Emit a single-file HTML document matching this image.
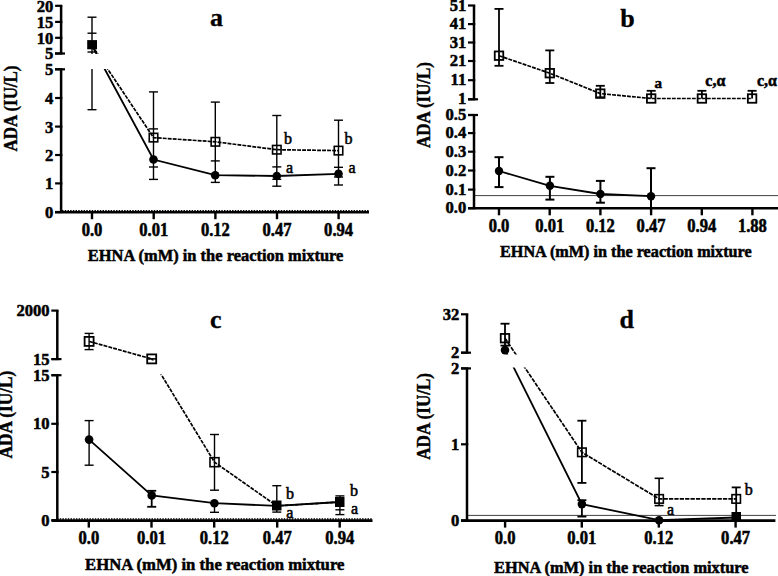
<!DOCTYPE html>
<html><head><meta charset="utf-8"><style>
html,body{margin:0;padding:0;background:#fff;width:778px;height:576px;overflow:hidden}
svg{display:block}
text{font-family:"Liberation Serif",serif;fill:#000}
</style></head><body>
<svg width="778" height="576" viewBox="0 0 778 576" font-family="Liberation Serif, serif">
<rect width="778" height="576" fill="#fff"/>
<polyline points="92,45.5 153.5,159.5 215.2,175.2 276.8,176 338.5,173.8" fill="none" stroke="#000" stroke-width="1.8" />
<polyline points="92,45.5 153.5,137.6 215.4,141.8 276.8,149.7 338.5,150.6" fill="none" stroke="#000" stroke-width="1.7" stroke-dasharray="3.9,1.1" />
<line x1="92" y1="17.2" x2="92" y2="109.7" stroke="#000" stroke-width="1.4" />
<line x1="87.5" y1="17.2" x2="96.5" y2="17.2" stroke="#000" stroke-width="1.4" />
<line x1="87.5" y1="33.2" x2="96.5" y2="33.2" stroke="#000" stroke-width="1.4" />
<line x1="87.5" y1="52" x2="96.5" y2="52" stroke="#000" stroke-width="1.4" />
<line x1="87.5" y1="109.7" x2="96.5" y2="109.7" stroke="#000" stroke-width="1.4" />
<line x1="153.5" y1="91.9" x2="153.5" y2="179.4" stroke="#000" stroke-width="1.4" />
<line x1="149.0" y1="91.9" x2="158.0" y2="91.9" stroke="#000" stroke-width="1.4" />
<line x1="149.0" y1="128.9" x2="158.0" y2="128.9" stroke="#000" stroke-width="1.4" />
<line x1="149.0" y1="167.0" x2="158.0" y2="167.0" stroke="#000" stroke-width="1.4" />
<line x1="149.0" y1="179.4" x2="158.0" y2="179.4" stroke="#000" stroke-width="1.4" />
<line x1="215.3" y1="102.1" x2="215.3" y2="182.4" stroke="#000" stroke-width="1.4" />
<line x1="210.8" y1="102.1" x2="219.8" y2="102.1" stroke="#000" stroke-width="1.4" />
<line x1="210.8" y1="160.9" x2="219.8" y2="160.9" stroke="#000" stroke-width="1.4" />
<line x1="210.8" y1="182.4" x2="219.8" y2="182.4" stroke="#000" stroke-width="1.4" />
<line x1="276.8" y1="115.5" x2="276.8" y2="186.2" stroke="#000" stroke-width="1.4" />
<line x1="272.3" y1="115.5" x2="281.3" y2="115.5" stroke="#000" stroke-width="1.4" />
<line x1="272.3" y1="166.9" x2="281.3" y2="166.9" stroke="#000" stroke-width="1.4" />
<line x1="272.3" y1="179.3" x2="281.3" y2="179.3" stroke="#000" stroke-width="1.4" />
<line x1="272.3" y1="186.2" x2="281.3" y2="186.2" stroke="#000" stroke-width="1.4" />
<line x1="338.5" y1="120.2" x2="338.5" y2="185.0" stroke="#000" stroke-width="1.4" />
<line x1="334.0" y1="120.2" x2="343.0" y2="120.2" stroke="#000" stroke-width="1.4" />
<line x1="334.0" y1="167.3" x2="343.0" y2="167.3" stroke="#000" stroke-width="1.4" />
<line x1="334.0" y1="177.0" x2="343.0" y2="177.0" stroke="#000" stroke-width="1.4" />
<line x1="334.0" y1="185.0" x2="343.0" y2="185.0" stroke="#000" stroke-width="1.4" />
<rect x="63" y="54" width="300" height="15" fill="#fff"/>
<rect x="87.2" y="40.1" width="9.8" height="9.2" fill="#000"/>
<rect x="149.25" y="133.35" width="8.5" height="8.5" fill="none" stroke="#000" stroke-width="1.6"/>
<rect x="211.15" y="137.55" width="8.5" height="8.5" fill="none" stroke="#000" stroke-width="1.6"/>
<rect x="272.55" y="145.45" width="8.5" height="8.5" fill="none" stroke="#000" stroke-width="1.6"/>
<rect x="334.25" y="146.35" width="8.5" height="8.5" fill="none" stroke="#000" stroke-width="1.6"/>
<circle cx="153.5" cy="159.5" r="4.3" fill="#000"/>
<circle cx="215.2" cy="175.2" r="4.3" fill="#000"/>
<circle cx="276.8" cy="176" r="4.3" fill="#000"/>
<circle cx="338.5" cy="173.8" r="4.3" fill="#000"/>
<line x1="61.1" y1="5.8" x2="61.1" y2="53.5" stroke="#000" stroke-width="2.5" />
<line x1="55.1" y1="5.8" x2="62.35" y2="5.8" stroke="#000" stroke-width="2.2" />
<text transform="translate(53.4,11.7) scale(1,1.07)" font-size="16.6" font-weight="bold" text-anchor="end" stroke="#000" stroke-width="0.5" >20</text>
<line x1="55.1" y1="21.9" x2="62.35" y2="21.9" stroke="#000" stroke-width="2.2" />
<text transform="translate(53.4,27.799999999999997) scale(1,1.07)" font-size="16.6" font-weight="bold" text-anchor="end" stroke="#000" stroke-width="0.5" >15</text>
<line x1="55.1" y1="37.8" x2="62.35" y2="37.8" stroke="#000" stroke-width="2.2" />
<text transform="translate(53.4,43.699999999999996) scale(1,1.07)" font-size="16.6" font-weight="bold" text-anchor="end" stroke="#000" stroke-width="0.5" >10</text>
<line x1="55.1" y1="53.5" x2="62.35" y2="53.5" stroke="#000" stroke-width="2.2" />
<text transform="translate(53.4,59.4) scale(1,1.07)" font-size="16.6" font-weight="bold" text-anchor="end" stroke="#000" stroke-width="0.5" >5</text>
<line x1="55" y1="53.5" x2="65" y2="53.5" stroke="#000" stroke-width="2.2" />
<line x1="61.1" y1="69.3" x2="61.1" y2="212" stroke="#000" stroke-width="2.5" />
<line x1="55.1" y1="69.3" x2="62.35" y2="69.3" stroke="#000" stroke-width="2.2" />
<text transform="translate(53.4,75.2) scale(1,1.07)" font-size="16.6" font-weight="bold" text-anchor="end" stroke="#000" stroke-width="0.5" >5</text>
<line x1="55.1" y1="98" x2="62.35" y2="98" stroke="#000" stroke-width="2.2" />
<text transform="translate(53.4,103.9) scale(1,1.07)" font-size="16.6" font-weight="bold" text-anchor="end" stroke="#000" stroke-width="0.5" >4</text>
<line x1="55.1" y1="126.6" x2="62.35" y2="126.6" stroke="#000" stroke-width="2.2" />
<text transform="translate(53.4,132.5) scale(1,1.07)" font-size="16.6" font-weight="bold" text-anchor="end" stroke="#000" stroke-width="0.5" >3</text>
<line x1="55.1" y1="155" x2="62.35" y2="155" stroke="#000" stroke-width="2.2" />
<text transform="translate(53.4,160.9) scale(1,1.07)" font-size="16.6" font-weight="bold" text-anchor="end" stroke="#000" stroke-width="0.5" >2</text>
<line x1="55.1" y1="183.4" x2="62.35" y2="183.4" stroke="#000" stroke-width="2.2" />
<text transform="translate(53.4,189.3) scale(1,1.07)" font-size="16.6" font-weight="bold" text-anchor="end" stroke="#000" stroke-width="0.5" >1</text>
<line x1="55.1" y1="212" x2="62.35" y2="212" stroke="#000" stroke-width="2.2" />
<text transform="translate(53.4,217.9) scale(1,1.07)" font-size="16.6" font-weight="bold" text-anchor="end" stroke="#000" stroke-width="0.5" >0</text>
<line x1="55" y1="69.3" x2="65" y2="69.3" stroke="#000" stroke-width="2.2" />
<line x1="62" y1="210.6" x2="369" y2="210.6" stroke="#000" stroke-width="1.1" stroke-dasharray="1.5,1.2"/>
<line x1="55" y1="212.2" x2="369" y2="212.2" stroke="#000" stroke-width="2.6" />
<line x1="92" y1="212.2" x2="92" y2="219.2" stroke="#000" stroke-width="2.4" />
<text transform="translate(92,235.5) scale(1,1.12)" font-size="16.6" font-weight="bold" text-anchor="middle" stroke="#000" stroke-width="0.5" >0.0</text>
<line x1="153.7" y1="212.2" x2="153.7" y2="219.2" stroke="#000" stroke-width="2.4" />
<text transform="translate(153.7,235.5) scale(1,1.12)" font-size="16.6" font-weight="bold" text-anchor="middle" stroke="#000" stroke-width="0.5" >0.01</text>
<line x1="215.4" y1="212.2" x2="215.4" y2="219.2" stroke="#000" stroke-width="2.4" />
<text transform="translate(215.4,235.5) scale(1,1.12)" font-size="16.6" font-weight="bold" text-anchor="middle" stroke="#000" stroke-width="0.5" >0.12</text>
<line x1="277" y1="212.2" x2="277" y2="219.2" stroke="#000" stroke-width="2.4" />
<text transform="translate(277,235.5) scale(1,1.12)" font-size="16.6" font-weight="bold" text-anchor="middle" stroke="#000" stroke-width="0.5" >0.47</text>
<line x1="338.6" y1="212.2" x2="338.6" y2="219.2" stroke="#000" stroke-width="2.4" />
<text transform="translate(338.6,235.5) scale(1,1.12)" font-size="16.6" font-weight="bold" text-anchor="middle" stroke="#000" stroke-width="0.5" >0.94</text>
<text transform="translate(284.1,143.5) scale(1,1)" font-size="16" font-weight="normal" text-anchor="start" stroke="#000" stroke-width="0.55" >b</text>
<text transform="translate(344.6,144.2) scale(1,1)" font-size="16" font-weight="normal" text-anchor="start" stroke="#000" stroke-width="0.55" >b</text>
<text transform="translate(286,173.2) scale(1,1)" font-size="16" font-weight="normal" text-anchor="start" stroke="#000" stroke-width="0.55" >a</text>
<text transform="translate(348.5,172.6) scale(1,1)" font-size="16" font-weight="normal" text-anchor="start" stroke="#000" stroke-width="0.55" >a</text>
<text transform="translate(210,26.2) scale(1,1)" font-size="26" font-weight="bold" text-anchor="start" stroke="#000" stroke-width="0.3" >a</text>
<text transform="translate(87.8,261.3) scale(1,1.06)" font-size="16.5" font-weight="bold" text-anchor="start" stroke="#000" stroke-width="0.5" textLength="255.6" lengthAdjust="spacingAndGlyphs">EHNA (mM) in the reaction mixture</text>
<text transform="translate(16.5,151.5) rotate(-90)" font-size="18" font-weight="bold" stroke="#000" stroke-width="0.4" textLength="86" lengthAdjust="spacingAndGlyphs">ADA (IU/L)</text>
<polyline points="499,55.7 549.8,73.2 600.3,93.6 651.2,98.5 701.9,98.5 752.1,98.5" fill="none" stroke="#000" stroke-width="1.7" stroke-dasharray="3.9,1.1" />
<polyline points="499,171 549.9,185.8 600.4,194 651,196.2" fill="none" stroke="#000" stroke-width="1.8" />
<line x1="474" y1="195.6" x2="778" y2="195.6" stroke="#000" stroke-width="1" stroke-opacity="0.75"/>
<line x1="499" y1="8.9" x2="499" y2="65.8" stroke="#000" stroke-width="1.8" />
<line x1="494.5" y1="8.9" x2="503.5" y2="8.9" stroke="#000" stroke-width="1.8" />
<line x1="494.5" y1="65.8" x2="503.5" y2="65.8" stroke="#000" stroke-width="1.8" />
<line x1="549.8" y1="50.4" x2="549.8" y2="83" stroke="#000" stroke-width="1.8" />
<line x1="545.3" y1="50.4" x2="554.3" y2="50.4" stroke="#000" stroke-width="1.8" />
<line x1="545.3" y1="83" x2="554.3" y2="83" stroke="#000" stroke-width="1.8" />
<line x1="600.3" y1="85.8" x2="600.3" y2="97.3" stroke="#000" stroke-width="1.8" />
<line x1="595.8" y1="85.8" x2="604.8" y2="85.8" stroke="#000" stroke-width="1.8" />
<line x1="595.8" y1="97.3" x2="604.8" y2="97.3" stroke="#000" stroke-width="1.8" />
<line x1="651.2" y1="90.8" x2="651.2" y2="98.5" stroke="#000" stroke-width="1.8" />
<line x1="646.7" y1="90.8" x2="655.7" y2="90.8" stroke="#000" stroke-width="1.8" />
<line x1="701.9" y1="90.8" x2="701.9" y2="98.5" stroke="#000" stroke-width="1.8" />
<line x1="697.4" y1="90.8" x2="706.4" y2="90.8" stroke="#000" stroke-width="1.8" />
<line x1="752.1" y1="90.8" x2="752.1" y2="98.5" stroke="#000" stroke-width="1.8" />
<line x1="747.6" y1="90.8" x2="756.6" y2="90.8" stroke="#000" stroke-width="1.8" />
<line x1="499" y1="157.2" x2="499" y2="187.1" stroke="#000" stroke-width="2" />
<line x1="494.5" y1="157.2" x2="503.5" y2="157.2" stroke="#000" stroke-width="2" />
<line x1="494.5" y1="187.1" x2="503.5" y2="187.1" stroke="#000" stroke-width="2" />
<line x1="549.9" y1="176.8" x2="549.9" y2="199.6" stroke="#000" stroke-width="2" />
<line x1="545.4" y1="176.8" x2="554.4" y2="176.8" stroke="#000" stroke-width="2" />
<line x1="545.4" y1="199.6" x2="554.4" y2="199.6" stroke="#000" stroke-width="2" />
<line x1="600.4" y1="180.9" x2="600.4" y2="202.7" stroke="#000" stroke-width="2" />
<line x1="595.9" y1="180.9" x2="604.9" y2="180.9" stroke="#000" stroke-width="2" />
<line x1="595.9" y1="202.7" x2="604.9" y2="202.7" stroke="#000" stroke-width="2" />
<line x1="651" y1="168.2" x2="651" y2="208" stroke="#000" stroke-width="2" />
<line x1="646.5" y1="168.2" x2="655.5" y2="168.2" stroke="#000" stroke-width="2" />
<rect x="494.75" y="51.45" width="8.5" height="8.5" fill="none" stroke="#000" stroke-width="1.8"/>
<rect x="545.55" y="68.95" width="8.5" height="8.5" fill="none" stroke="#000" stroke-width="1.8"/>
<rect x="596.05" y="89.35" width="8.5" height="8.5" fill="none" stroke="#000" stroke-width="1.8"/>
<rect x="646.95" y="94.25" width="8.5" height="8.5" fill="none" stroke="#000" stroke-width="1.8"/>
<rect x="697.65" y="94.25" width="8.5" height="8.5" fill="none" stroke="#000" stroke-width="1.8"/>
<rect x="747.85" y="94.25" width="8.5" height="8.5" fill="none" stroke="#000" stroke-width="1.8"/>
<circle cx="499" cy="171" r="4.2" fill="#000"/>
<circle cx="549.9" cy="185.8" r="4.2" fill="#000"/>
<circle cx="600.4" cy="194" r="4.2" fill="#000"/>
<circle cx="651" cy="196.2" r="4.2" fill="#000"/>
<line x1="474" y1="5.5" x2="474" y2="99.3" stroke="#000" stroke-width="2.5" />
<line x1="468" y1="5.5" x2="475.25" y2="5.5" stroke="#000" stroke-width="2.2" />
<text transform="translate(466.3,10.6) scale(1,1.07)" font-size="16.6" font-weight="bold" text-anchor="end" stroke="#000" stroke-width="0.5" >51</text>
<line x1="468" y1="24.1" x2="475.25" y2="24.1" stroke="#000" stroke-width="2.2" />
<text transform="translate(466.3,29.200000000000003) scale(1,1.07)" font-size="16.6" font-weight="bold" text-anchor="end" stroke="#000" stroke-width="0.5" >41</text>
<line x1="468" y1="42.5" x2="475.25" y2="42.5" stroke="#000" stroke-width="2.2" />
<text transform="translate(466.3,47.6) scale(1,1.07)" font-size="16.6" font-weight="bold" text-anchor="end" stroke="#000" stroke-width="0.5" >31</text>
<line x1="468" y1="61" x2="475.25" y2="61" stroke="#000" stroke-width="2.2" />
<text transform="translate(466.3,66.1) scale(1,1.07)" font-size="16.6" font-weight="bold" text-anchor="end" stroke="#000" stroke-width="0.5" >21</text>
<line x1="468" y1="80.2" x2="475.25" y2="80.2" stroke="#000" stroke-width="2.2" />
<text transform="translate(466.3,85.3) scale(1,1.07)" font-size="16.6" font-weight="bold" text-anchor="end" stroke="#000" stroke-width="0.5" >11</text>
<line x1="468" y1="99.3" x2="475.25" y2="99.3" stroke="#000" stroke-width="2.2" />
<text transform="translate(466.3,104.39999999999999) scale(1,1.07)" font-size="16.6" font-weight="bold" text-anchor="end" stroke="#000" stroke-width="0.5" >1</text>
<line x1="468" y1="99.3" x2="478" y2="99.3" stroke="#000" stroke-width="2.2" />
<line x1="474" y1="115" x2="474" y2="208" stroke="#000" stroke-width="2.5" />
<line x1="468" y1="115" x2="475.25" y2="115" stroke="#000" stroke-width="2.2" />
<text transform="translate(466.3,120.1) scale(1,1.07)" font-size="16.6" font-weight="bold" text-anchor="end" stroke="#000" stroke-width="0.5" >0.5</text>
<line x1="468" y1="133.1" x2="475.25" y2="133.1" stroke="#000" stroke-width="2.2" />
<text transform="translate(466.3,138.2) scale(1,1.07)" font-size="16.6" font-weight="bold" text-anchor="end" stroke="#000" stroke-width="0.5" >0.4</text>
<line x1="468" y1="151.7" x2="475.25" y2="151.7" stroke="#000" stroke-width="2.2" />
<text transform="translate(466.3,156.79999999999998) scale(1,1.07)" font-size="16.6" font-weight="bold" text-anchor="end" stroke="#000" stroke-width="0.5" >0.3</text>
<line x1="468" y1="170.5" x2="475.25" y2="170.5" stroke="#000" stroke-width="2.2" />
<text transform="translate(466.3,175.6) scale(1,1.07)" font-size="16.6" font-weight="bold" text-anchor="end" stroke="#000" stroke-width="0.5" >0.2</text>
<line x1="468" y1="189.6" x2="475.25" y2="189.6" stroke="#000" stroke-width="2.2" />
<text transform="translate(466.3,194.7) scale(1,1.07)" font-size="16.6" font-weight="bold" text-anchor="end" stroke="#000" stroke-width="0.5" >0.1</text>
<line x1="468" y1="208.2" x2="475.25" y2="208.2" stroke="#000" stroke-width="2.2" />
<text transform="translate(466.3,213.29999999999998) scale(1,1.07)" font-size="16.6" font-weight="bold" text-anchor="end" stroke="#000" stroke-width="0.5" >0.0</text>
<line x1="468" y1="115" x2="478" y2="115" stroke="#000" stroke-width="2.2" />
<line x1="468" y1="208.3" x2="778" y2="208.3" stroke="#000" stroke-width="2.6" />
<line x1="499" y1="208.3" x2="499" y2="215.3" stroke="#000" stroke-width="2.4" />
<text transform="translate(499,231.5) scale(1,1.12)" font-size="16.6" font-weight="bold" text-anchor="middle" stroke="#000" stroke-width="0.5" >0.0</text>
<line x1="549.7" y1="208.3" x2="549.7" y2="215.3" stroke="#000" stroke-width="2.4" />
<text transform="translate(549.7,231.5) scale(1,1.12)" font-size="16.6" font-weight="bold" text-anchor="middle" stroke="#000" stroke-width="0.5" >0.01</text>
<line x1="600.4" y1="208.3" x2="600.4" y2="215.3" stroke="#000" stroke-width="2.4" />
<text transform="translate(600.4,231.5) scale(1,1.12)" font-size="16.6" font-weight="bold" text-anchor="middle" stroke="#000" stroke-width="0.5" >0.12</text>
<line x1="651.1" y1="208.3" x2="651.1" y2="215.3" stroke="#000" stroke-width="2.4" />
<text transform="translate(651.1,231.5) scale(1,1.12)" font-size="16.6" font-weight="bold" text-anchor="middle" stroke="#000" stroke-width="0.5" >0.47</text>
<line x1="701.8" y1="208.3" x2="701.8" y2="215.3" stroke="#000" stroke-width="2.4" />
<text transform="translate(701.8,231.5) scale(1,1.12)" font-size="16.6" font-weight="bold" text-anchor="middle" stroke="#000" stroke-width="0.5" >0.94</text>
<line x1="752.4" y1="208.3" x2="752.4" y2="215.3" stroke="#000" stroke-width="2.4" />
<text transform="translate(752.4,231.5) scale(1,1.12)" font-size="16.6" font-weight="bold" text-anchor="middle" stroke="#000" stroke-width="0.5" >1.88</text>
<text transform="translate(654.5,87.7) scale(1,1)" font-size="15" font-weight="bold" text-anchor="start" stroke="#000" stroke-width="0.5" >a</text>
<text transform="translate(705.3,86.3) scale(1,1.07)" font-size="16" font-weight="bold" text-anchor="start" stroke="#000" stroke-width="0.5" >c,α</text>
<text transform="translate(757,86.3) scale(1,1.07)" font-size="16" font-weight="bold" text-anchor="start" stroke="#000" stroke-width="0.5" >c,α</text>
<text transform="translate(620.2,26.6) scale(1,1)" font-size="26" font-weight="bold" text-anchor="start" stroke="#000" stroke-width="0.3" >b</text>
<text transform="translate(500,256.6) scale(1,1.06)" font-size="16.5" font-weight="bold" text-anchor="start" stroke="#000" stroke-width="0.5" textLength="251.7" lengthAdjust="spacingAndGlyphs">EHNA (mM) in the reaction mixture</text>
<text transform="translate(430.3,148) rotate(-90)" font-size="18" font-weight="bold" stroke="#000" stroke-width="0.4" textLength="86" lengthAdjust="spacingAndGlyphs">ADA (IU/L)</text>
<polyline points="89.1,439.6 151.7,495.4 214.4,503.2 276.8,505.9 339.9,502" fill="none" stroke="#000" stroke-width="1.8" />
<polyline points="89.1,341.4 151.7,358.9 214.5,462.2 276.8,505.9 339.9,502" fill="none" stroke="#000" stroke-width="1.7" stroke-dasharray="3.9,1.1" />
<line x1="89.1" y1="333.4" x2="89.1" y2="349.6" stroke="#000" stroke-width="1.4" />
<line x1="84.6" y1="333.4" x2="93.6" y2="333.4" stroke="#000" stroke-width="1.4" />
<line x1="84.6" y1="349.6" x2="93.6" y2="349.6" stroke="#000" stroke-width="1.4" />
<line x1="89.1" y1="420.6" x2="89.1" y2="465.2" stroke="#000" stroke-width="1.4" />
<line x1="84.6" y1="420.6" x2="93.6" y2="420.6" stroke="#000" stroke-width="1.4" />
<line x1="84.6" y1="465.2" x2="93.6" y2="465.2" stroke="#000" stroke-width="1.4" />
<line x1="151.7" y1="490.8" x2="151.7" y2="506.8" stroke="#000" stroke-width="1.8" />
<line x1="147.2" y1="490.8" x2="156.2" y2="490.8" stroke="#000" stroke-width="1.8" />
<line x1="147.2" y1="506.8" x2="156.2" y2="506.8" stroke="#000" stroke-width="1.8" />
<line x1="214.5" y1="434.5" x2="214.5" y2="490.2" stroke="#000" stroke-width="1.4" />
<line x1="210.0" y1="434.5" x2="219.0" y2="434.5" stroke="#000" stroke-width="1.4" />
<line x1="210.0" y1="490.2" x2="219.0" y2="490.2" stroke="#000" stroke-width="1.4" />
<line x1="214.5" y1="503" x2="214.5" y2="512.3" stroke="#000" stroke-width="1.4" />
<line x1="210.0" y1="512.3" x2="219.0" y2="512.3" stroke="#000" stroke-width="1.4" />
<line x1="276.8" y1="485.7" x2="276.8" y2="512.1" stroke="#000" stroke-width="1.4" />
<line x1="272.3" y1="485.7" x2="281.3" y2="485.7" stroke="#000" stroke-width="1.4" />
<line x1="272.3" y1="512.1" x2="281.3" y2="512.1" stroke="#000" stroke-width="1.4" />
<line x1="339.9" y1="495.9" x2="339.9" y2="514.6" stroke="#000" stroke-width="1.4" />
<line x1="335.4" y1="495.9" x2="344.4" y2="495.9" stroke="#000" stroke-width="1.4" />
<line x1="335.4" y1="509.8" x2="344.4" y2="509.8" stroke="#000" stroke-width="1.4" />
<line x1="335.4" y1="514.6" x2="344.4" y2="514.6" stroke="#000" stroke-width="1.4" />
<rect x="59" y="360.5" width="300" height="14" fill="#fff"/>
<rect x="84.6" y="336.9" width="9" height="9" fill="none" stroke="#000" stroke-width="1.8"/>
<rect x="147.2" y="354.4" width="9" height="9" fill="none" stroke="#000" stroke-width="1.8"/>
<line x1="147.2" y1="358.9" x2="156.2" y2="358.9" stroke="#000" stroke-width="1.6" />
<rect x="210.0" y="457.7" width="9" height="9" fill="none" stroke="#000" stroke-width="1.6"/>
<rect x="272" y="500.5" width="9.5" height="10" fill="#000"/>
<rect x="335" y="497" width="9.5" height="10" fill="#000"/>
<circle cx="89.1" cy="439.6" r="4.3" fill="#000"/>
<circle cx="151.7" cy="495.4" r="4.3" fill="#000"/>
<circle cx="214.4" cy="503.2" r="4.3" fill="#000"/>
<line x1="57.3" y1="310.6" x2="57.3" y2="359.1" stroke="#000" stroke-width="2.5" />
<line x1="51.3" y1="310.6" x2="58.55" y2="310.6" stroke="#000" stroke-width="2.2" />
<text transform="translate(49.599999999999994,316.40000000000003) scale(1,1.07)" font-size="16.6" font-weight="bold" text-anchor="end" stroke="#000" stroke-width="0.5" >2000</text>
<line x1="51.3" y1="359.1" x2="58.55" y2="359.1" stroke="#000" stroke-width="2.2" />
<text transform="translate(49.599999999999994,364.90000000000003) scale(1,1.07)" font-size="16.6" font-weight="bold" text-anchor="end" stroke="#000" stroke-width="0.5" >15</text>
<line x1="51.5" y1="359.1" x2="61.5" y2="359.1" stroke="#000" stroke-width="2.2" />
<line x1="57.3" y1="375.2" x2="57.3" y2="520" stroke="#000" stroke-width="2.5" />
<line x1="51.3" y1="375.2" x2="58.55" y2="375.2" stroke="#000" stroke-width="2.2" />
<text transform="translate(49.599999999999994,380.7) scale(1,1.07)" font-size="16.6" font-weight="bold" text-anchor="end" stroke="#000" stroke-width="0.5" >15</text>
<line x1="51.3" y1="423.8" x2="58.55" y2="423.8" stroke="#000" stroke-width="2.2" />
<text transform="translate(49.599999999999994,429.3) scale(1,1.07)" font-size="16.6" font-weight="bold" text-anchor="end" stroke="#000" stroke-width="0.5" >10</text>
<line x1="51.3" y1="472" x2="58.55" y2="472" stroke="#000" stroke-width="2.2" />
<text transform="translate(49.599999999999994,477.5) scale(1,1.07)" font-size="16.6" font-weight="bold" text-anchor="end" stroke="#000" stroke-width="0.5" >5</text>
<line x1="51.3" y1="520.2" x2="58.55" y2="520.2" stroke="#000" stroke-width="2.2" />
<text transform="translate(49.599999999999994,525.7) scale(1,1.07)" font-size="16.6" font-weight="bold" text-anchor="end" stroke="#000" stroke-width="0.5" >0</text>
<line x1="51.5" y1="375.2" x2="61.5" y2="375.2" stroke="#000" stroke-width="2.2" />
<line x1="51.5" y1="520.6" x2="372.5" y2="520.6" stroke="#000" stroke-width="2.6" />
<line x1="88.8" y1="520.6" x2="88.8" y2="527.6" stroke="#000" stroke-width="2.4" />
<text transform="translate(88.8,544) scale(1,1.12)" font-size="16.6" font-weight="bold" text-anchor="middle" stroke="#000" stroke-width="0.5" >0.0</text>
<line x1="151.5" y1="520.6" x2="151.5" y2="527.6" stroke="#000" stroke-width="2.4" />
<text transform="translate(151.5,544) scale(1,1.12)" font-size="16.6" font-weight="bold" text-anchor="middle" stroke="#000" stroke-width="0.5" >0.01</text>
<line x1="214.2" y1="520.6" x2="214.2" y2="527.6" stroke="#000" stroke-width="2.4" />
<text transform="translate(214.2,544) scale(1,1.12)" font-size="16.6" font-weight="bold" text-anchor="middle" stroke="#000" stroke-width="0.5" >0.12</text>
<line x1="277.2" y1="520.6" x2="277.2" y2="527.6" stroke="#000" stroke-width="2.4" />
<text transform="translate(277.2,544) scale(1,1.12)" font-size="16.6" font-weight="bold" text-anchor="middle" stroke="#000" stroke-width="0.5" >0.47</text>
<line x1="339.7" y1="520.6" x2="339.7" y2="527.6" stroke="#000" stroke-width="2.4" />
<text transform="translate(339.7,544) scale(1,1.12)" font-size="16.6" font-weight="bold" text-anchor="middle" stroke="#000" stroke-width="0.5" >0.94</text>
<line x1="57" y1="519" x2="372.5" y2="519" stroke="#000" stroke-width="1.3" stroke-dasharray="1.5,1.2"/>
<text transform="translate(285.9,498.6) scale(1,1)" font-size="16" font-weight="normal" text-anchor="start" stroke="#000" stroke-width="0.55" >b</text>
<text transform="translate(286.3,518.4) scale(1,1)" font-size="16" font-weight="normal" text-anchor="start" stroke="#000" stroke-width="0.55" >a</text>
<text transform="translate(349.9,495.7) scale(1,1)" font-size="16" font-weight="normal" text-anchor="start" stroke="#000" stroke-width="0.55" >b</text>
<text transform="translate(351,514.1) scale(1,1)" font-size="16" font-weight="normal" text-anchor="start" stroke="#000" stroke-width="0.55" >a</text>
<text transform="translate(209.9,328) scale(1,1)" font-size="26" font-weight="bold" text-anchor="start" stroke="#000" stroke-width="0.3" >c</text>
<text transform="translate(85.1,570) scale(1,1.06)" font-size="16.5" font-weight="bold" text-anchor="start" stroke="#000" stroke-width="0.5" textLength="259.3" lengthAdjust="spacingAndGlyphs">EHNA (mM) in the reaction mixture</text>
<text transform="translate(12.2,458.6) rotate(-90)" font-size="18" font-weight="bold" stroke="#000" stroke-width="0.4" textLength="88" lengthAdjust="spacingAndGlyphs">ADA (IU/L)</text>
<polyline points="505,350.1 581.9,504.1 659.1,520.2 736,517.5" fill="none" stroke="#000" stroke-width="1.8" />
<polyline points="505,338.2 581.9,452.3 659.1,498.9 736.2,498.9" fill="none" stroke="#000" stroke-width="1.7" stroke-dasharray="4.3,1.1" />
<line x1="467" y1="515.4" x2="776" y2="515.4" stroke="#000" stroke-width="1" stroke-opacity="0.75"/>
<line x1="505" y1="323.7" x2="505" y2="345.6" stroke="#000" stroke-width="1.8" />
<line x1="500.5" y1="323.7" x2="509.5" y2="323.7" stroke="#000" stroke-width="1.8" />
<line x1="500.5" y1="345.6" x2="509.5" y2="345.6" stroke="#000" stroke-width="1.8" />
<line x1="581.9" y1="420.7" x2="581.9" y2="482.9" stroke="#000" stroke-width="1.8" />
<line x1="577.4" y1="420.7" x2="586.4" y2="420.7" stroke="#000" stroke-width="1.8" />
<line x1="577.4" y1="482.9" x2="586.4" y2="482.9" stroke="#000" stroke-width="1.8" />
<line x1="581.9" y1="500.2" x2="581.9" y2="516.6" stroke="#000" stroke-width="1.8" />
<line x1="577.4" y1="500.2" x2="586.4" y2="500.2" stroke="#000" stroke-width="1.8" />
<line x1="577.4" y1="516.6" x2="586.4" y2="516.6" stroke="#000" stroke-width="1.8" />
<line x1="659.1" y1="478.3" x2="659.1" y2="505.6" stroke="#000" stroke-width="1.6" />
<line x1="654.6" y1="478.3" x2="663.6" y2="478.3" stroke="#000" stroke-width="1.6" />
<line x1="654.6" y1="505.6" x2="663.6" y2="505.6" stroke="#000" stroke-width="1.6" />
<line x1="736.2" y1="487.4" x2="736.2" y2="521" stroke="#000" stroke-width="1.8" />
<line x1="731.7" y1="487.4" x2="740.7" y2="487.4" stroke="#000" stroke-width="1.8" />
<rect x="469" y="354.5" width="300" height="13" fill="#fff"/>
<rect x="500.75" y="333.95" width="8.5" height="8.5" fill="none" stroke="#000" stroke-width="1.8"/>
<circle cx="505" cy="350.1" r="4.3" fill="#000"/>
<rect x="577.65" y="448.05" width="8.5" height="8.5" fill="none" stroke="#000" stroke-width="1.6"/>
<rect x="654.85" y="494.65" width="8.5" height="8.5" fill="none" stroke="#000" stroke-width="1.6"/>
<rect x="731.95" y="494.65" width="8.5" height="8.5" fill="none" stroke="#000" stroke-width="1.6"/>
<circle cx="581.9" cy="504.1" r="4.3" fill="#000"/>
<circle cx="659.1" cy="520.2" r="4.3" fill="#000"/>
<rect x="731.5" y="512" width="9.5" height="9" fill="#000"/>
<line x1="467" y1="314.3" x2="467" y2="352.7" stroke="#000" stroke-width="2.5" />
<line x1="461" y1="314.3" x2="468.25" y2="314.3" stroke="#000" stroke-width="2.2" />
<text transform="translate(459.3,319.90000000000003) scale(1,1.07)" font-size="16.6" font-weight="bold" text-anchor="end" stroke="#000" stroke-width="0.5" >32</text>
<line x1="461" y1="352.7" x2="468.25" y2="352.7" stroke="#000" stroke-width="2.2" />
<text transform="translate(459.3,358.3) scale(1,1.07)" font-size="16.6" font-weight="bold" text-anchor="end" stroke="#000" stroke-width="0.5" >2</text>
<line x1="461" y1="352.7" x2="471" y2="352.7" stroke="#000" stroke-width="2.2" />
<line x1="467" y1="368.4" x2="467" y2="520.5" stroke="#000" stroke-width="2.5" />
<line x1="461" y1="368.4" x2="468.25" y2="368.4" stroke="#000" stroke-width="2.2" />
<text transform="translate(459.3,374.0) scale(1,1.07)" font-size="16.6" font-weight="bold" text-anchor="end" stroke="#000" stroke-width="0.5" >2</text>
<line x1="461" y1="444.3" x2="468.25" y2="444.3" stroke="#000" stroke-width="2.2" />
<text transform="translate(459.3,449.90000000000003) scale(1,1.07)" font-size="16.6" font-weight="bold" text-anchor="end" stroke="#000" stroke-width="0.5" >1</text>
<line x1="461" y1="520.5" x2="468.25" y2="520.5" stroke="#000" stroke-width="2.2" />
<text transform="translate(459.3,526.1) scale(1,1.07)" font-size="16.6" font-weight="bold" text-anchor="end" stroke="#000" stroke-width="0.5" >0</text>
<line x1="461" y1="368.4" x2="471" y2="368.4" stroke="#000" stroke-width="2.2" />
<line x1="461" y1="520.6" x2="775.4" y2="520.6" stroke="#000" stroke-width="2.6" />
<line x1="505.1" y1="520.6" x2="505.1" y2="527.6" stroke="#000" stroke-width="2.4" />
<text transform="translate(505.1,543.5) scale(1,1.12)" font-size="16.6" font-weight="bold" text-anchor="middle" stroke="#000" stroke-width="0.5" >0.0</text>
<line x1="581.8" y1="520.6" x2="581.8" y2="527.6" stroke="#000" stroke-width="2.4" />
<text transform="translate(581.8,543.5) scale(1,1.12)" font-size="16.6" font-weight="bold" text-anchor="middle" stroke="#000" stroke-width="0.5" >0.01</text>
<line x1="658.8" y1="520.6" x2="658.8" y2="527.6" stroke="#000" stroke-width="2.4" />
<text transform="translate(658.8,543.5) scale(1,1.12)" font-size="16.6" font-weight="bold" text-anchor="middle" stroke="#000" stroke-width="0.5" >0.12</text>
<line x1="735.6" y1="520.6" x2="735.6" y2="527.6" stroke="#000" stroke-width="2.4" />
<text transform="translate(735.6,543.5) scale(1,1.12)" font-size="16.6" font-weight="bold" text-anchor="middle" stroke="#000" stroke-width="0.5" >0.47</text>
<text transform="translate(667,515.3) scale(1,1)" font-size="16" font-weight="normal" text-anchor="start" stroke="#000" stroke-width="0.55" >a</text>
<text transform="translate(744.8,494.7) scale(1,1)" font-size="16" font-weight="normal" text-anchor="start" stroke="#000" stroke-width="0.55" >b</text>
<text transform="translate(619.5,327.7) scale(1,1)" font-size="26" font-weight="bold" text-anchor="start" stroke="#000" stroke-width="0.3" >d</text>
<text transform="translate(494,572.7) scale(1,1.06)" font-size="16.5" font-weight="bold" text-anchor="start" stroke="#000" stroke-width="0.5" textLength="254.6" lengthAdjust="spacingAndGlyphs">EHNA (mM) in the reaction mixture</text>
<text transform="translate(430.2,459.7) rotate(-90)" font-size="18" font-weight="bold" stroke="#000" stroke-width="0.4" textLength="86.7" lengthAdjust="spacingAndGlyphs">ADA (IU/L)</text>
</svg>
</body></html>
